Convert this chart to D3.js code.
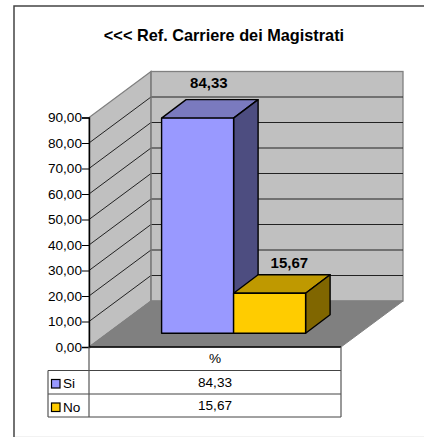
<!DOCTYPE html>
<html>
<head>
<meta charset="utf-8">
<script src="https://cdn.jsdelivr.net/npm/d3@7"></script>
<style>
	html, body { margin: 0; padding: 0; background: #fff; }
	svg { display: block; }
	text { font-family: "Liberation Sans", Arial, sans-serif; fill: #000; }
</style>
</head>
<body>
<div id="chart"></div>
<script>
var title = "<<< Ref. Carriere dei Magistrati";
var seriesNames = [ "Si", "No" ];
var seriesValues = [ 84.33, 15.67 ];
var seriesLabels = [ "84,33", "15,67" ];
var category = "%";
var yTicks = [ 0, 10, 20, 30, 40, 50, 60, 70, 80, 90 ];
var frontColors = [ "#9999ff", "#ffcc00" ];
var topColors = [ "#7a7abf", "#bf9900" ];
var sideColors = [ "#4d4d80", "#806600" ];

var svg = d3.select("#chart")
	.append("svg")
	.attr("width", 424)
	.attr("height", 437)
;

// frame of the chart area, only left and top are visible
svg.append("path")
	.attr("d", "M14,437V6H424")
	.attr("fill", "none")
	.attr("stroke", "#444")
	.attr("stroke-width", 1.5)
;
svg.append("line")
	.attr("x1", 15).attr("x2", 424)
	.attr("y1", 436.5).attr("y2", 436.5)
	.attr("stroke", "#f2f2f2")
;

svg.append("text")
	.attr("x", 224)
	.attr("y", 41)
	.attr("text-anchor", "middle")
	.attr("font-size", "16.3px")
	.attr("font-weight", "bold")
	.text(title)
;

// plot box, front plane
var left = 89, right = 341, bottom = 347;
var depthX = 62, depthY = 46;

var y = d3.scaleLinear().domain([0, 90]).range([bottom, 117.5]);
var x = d3.scaleBand().domain(seriesNames).range([0, right - left]).paddingInner(0).paddingOuter(0.75);

var top90 = y(90);

// side wall
svg.append("path")
	.attr("d", d3.line()([[left, bottom], [left + depthX, bottom - depthY], [left + depthX, top90 - depthY], [left, top90]]) + "Z")
	.attr("fill", "#c0c0c0")
	.attr("stroke", "#808080")
	.attr("stroke-width", 1.3)
;
// back wall
svg.append("rect")
	.attr("x", left + depthX)
	.attr("y", top90 - depthY)
	.attr("width", right - left)
	.attr("height", bottom - top90)
	.attr("fill", "#c0c0c0")
	.attr("stroke", "#808080")
	.attr("stroke-width", 1.3)
;
// floor
svg.append("path")
	.attr("d", d3.line()([[left, bottom], [left + depthX, bottom - depthY], [right + depthX, bottom - depthY], [right, bottom]]) + "Z")
	.attr("fill", "#808080")
	.attr("stroke", "#808080")
;

// gridlines on both walls
var grid = yTicks.filter((d) => d > 0 && d < 90);
svg.append("g").selectAll("path").data(grid).enter().append("path")
	.attr("d", (d) => d3.line()([[left, y(d)], [left + depthX, y(d) - depthY], [right + depthX, y(d) - depthY]]))
	.attr("fill", "none")
	.attr("stroke", "#222")
	.attr("stroke-width", 1)
;
// the back wall corner stays grey over the gridlines
svg.append("line")
	.attr("x1", left + depthX).attr("x2", left + depthX)
	.attr("y1", top90 - depthY).attr("y2", bottom - depthY)
	.attr("stroke", "#808080")
	.attr("stroke-width", 1.3)
;

// bars
var barDepthX = 24.5, barDepthY = 18.5;
var offX = 18.6, offY = 13.8;
var bars = svg.append("g").selectAll("g").data(seriesValues).enter().append("g");

function barLeft(i) { return left + offX + x(seriesNames[i]); }
function barRight(i) { return barLeft(i) + x.bandwidth(); }
function barBase() { return bottom - offY; }
function barTop(d) { return y(d) - offY; }

bars.append("path")
	.attr("d", (d, i) => d3.line()([
		[barLeft(i), barTop(d)],
		[barLeft(i) + barDepthX, barTop(d) - barDepthY],
		[barRight(i) + barDepthX, barTop(d) - barDepthY],
		[barRight(i), barTop(d)]
	]) + "Z")
	.attr("fill", (d, i) => topColors[i])
;
bars.append("path")
	.attr("d", (d, i) => d3.line()([
		[barRight(i), barTop(d)],
		[barRight(i) + barDepthX, barTop(d) - barDepthY],
		[barRight(i) + barDepthX, barBase() - barDepthY],
		[barRight(i), barBase()]
	]) + "Z")
	.attr("fill", (d, i) => sideColors[i])
;
bars.append("rect")
	.attr("x", (d, i) => barLeft(i))
	.attr("y", (d) => barTop(d))
	.attr("width", x.bandwidth())
	.attr("height", (d) => barBase() - barTop(d))
	.attr("fill", (d, i) => frontColors[i])
;
bars.selectAll("path, rect")
	.attr("stroke", "#000")
	.attr("stroke-width", 1.4)
	.attr("stroke-linejoin", "round")
;

// value labels, the short bar's label sits a bit lower and to the right
bars.append("text")
	.attr("x", (d, i) => barLeft(i) + x.bandwidth() / 2 + barDepthX / 2 + (i == 0 ? -1 : 7.5))
	.attr("y", (d, i) => barTop(d) - barDepthY - (i == 0 ? 11.5 : 6.5))
	.attr("text-anchor", "middle")
	.attr("font-size", "15px")
	.attr("font-weight", "bold")
	.text((d, i) => seriesLabels[i])
;

// y axis
var yAxis = svg.append("g")
	.attr("transform", "translate(" + left + ",0)")
	.call(d3.axisLeft(y).tickValues(yTicks).tickSize(7).tickPadding(0)
		.tickFormat((d) => d3.format(".2f")(d).replace(".", ",")))
;
yAxis.select(".domain").attr("stroke", "#000").attr("stroke-width", 1.4);
yAxis.selectAll(".tick line").attr("stroke", "#000");
yAxis.selectAll("text").attr("font-size", "13.6px").attr("font-family", "Liberation Sans");

// data table under the plot
var rowY = [ 347, 370.5, 394, 417 ];
var tableLeft = 48;
var table = svg.append("g");

table.selectAll("line.row").data(rowY).enter().append("line")
	.attr("class", "row")
	.attr("x1", (d, i) => i == 0 ? left : tableLeft)
	.attr("x2", right)
	.attr("y1", (d) => d)
	.attr("y2", (d) => d)
	.attr("stroke", (d, i) => i == 0 ? "#000" : "#444")
	.attr("stroke-width", (d, i) => i == 0 ? 1.4 : 1)
;
[ [left, rowY[0]], [right, rowY[0]], [tableLeft, rowY[1]] ].forEach((p) => {
	table.append("line")
		.attr("x1", p[0]).attr("x2", p[0])
		.attr("y1", p[1]).attr("y2", rowY[3])
		.attr("stroke", "#555")
		.attr("stroke-width", 1.2)
	;
});

table.append("text")
	.attr("x", (left + right) / 2)
	.attr("y", rowY[0] + 16)
	.attr("text-anchor", "middle")
	.attr("font-size", "13.6px")
	.text(category)
;
table.selectAll("text.val").data(seriesLabels).enter().append("text")
	.attr("class", "val")
	.attr("x", (left + right) / 2)
	.attr("y", (d, i) => rowY[i + 1] + 16)
	.attr("text-anchor", "middle")
	.attr("font-size", "13.6px")
	.text((d) => d)
;
table.selectAll("rect.key").data(seriesNames).enter().append("rect")
	.attr("class", "key")
	.attr("x", 51.5)
	.attr("y", (d, i) => rowY[i + 1] + 9)
	.attr("width", 8.5)
	.attr("height", 8.5)
	.attr("fill", (d, i) => frontColors[i])
	.attr("stroke", "#000")
	.attr("stroke-width", 1.2)
;
table.selectAll("text.name").data(seriesNames).enter().append("text")
	.attr("class", "name")
	.attr("x", 63)
	.attr("y", (d, i) => rowY[i + 1] + 17.5)
	.attr("font-size", "13.6px")
	.text((d) => d)
;
</script>
</body>
</html>
